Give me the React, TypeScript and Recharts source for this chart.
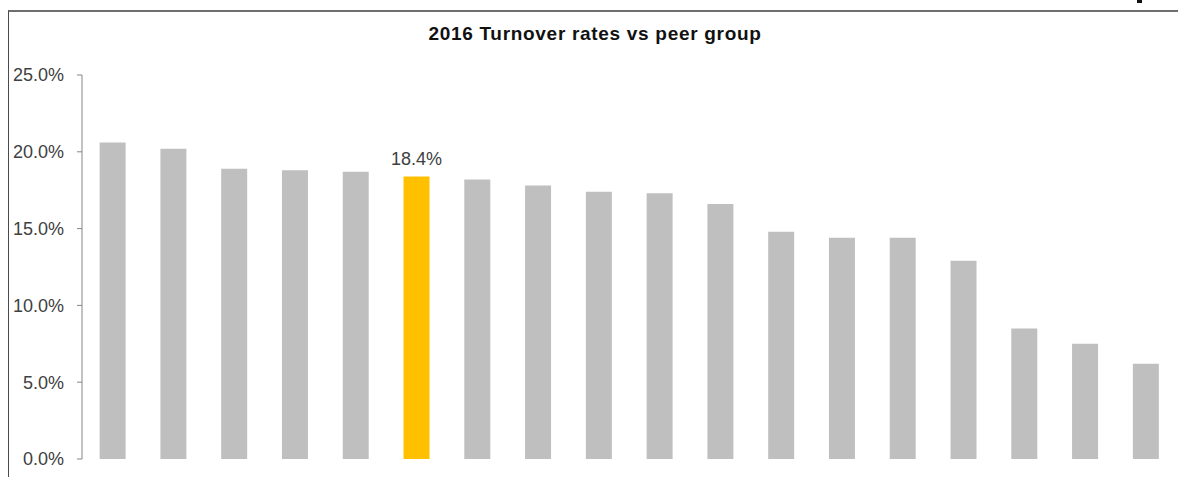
import { BarChart, Bar, XAxis, YAxis, Cell, LabelList } from 'recharts'

const TITLE = '2016 Turnover rates vs peer group'

// peer group, sorted by turnover
const peers = [
  'Peer A', 'Peer B', 'Peer C', 'Peer D', 'Peer E', 'Company', 'Peer F', 'Peer G', 'Peer H',
  'Peer I', 'Peer J', 'Peer K', 'Peer L', 'Peer M', 'Peer N', 'Peer O', 'Peer P', 'Peer Q',
]
const rates = [
  0.206, 0.202, 0.189, 0.188, 0.187, 0.184, 0.182, 0.178, 0.174,
  0.173, 0.166, 0.148, 0.144, 0.144, 0.129, 0.085, 0.075, 0.062,
]
const yTicks = [0, 0.05, 0.1, 0.15, 0.2, 0.25]
const HIGHLIGHT = 'Company'

const GREY = '#bfbfbf'
const GOLD = '#ffc000'
const AXIS = '#868686'
const TEXT = '#404040'
const FONT = '"Liberation Sans", Arial, sans-serif'

const data = peers.map((name, i) => ({ name, rate: rates[i] }))

const pct = (v: number) => `${(v * 100).toFixed(1)}%`

function HighlightLabel(props: any) {
  const { x, y, width, index, value } = props
  if (data[index]?.name !== HIGHLIGHT) return null
  return (
    <text x={x + width / 2} y={y - 11} textAnchor="middle" fill={TEXT}
      style={{ fontFamily: FONT, fontSize: 18 }}>
      {pct(value)}
    </text>
  )
}

export default function App() {
  return (
    <div style={{ position: 'fixed', left: 0, top: 0, width: 1178, height: 477, background: '#fff', overflow: 'hidden' }}>
      {/* frame */}
      <div style={{ position: 'absolute', left: 8, top: 10, width: 1170, height: 467,
        borderTop: '2px solid #6f6f6f', borderLeft: '1px solid #4a4a4a' }} />
      <div style={{ position: 'absolute', left: 1137, top: 0, width: 5, height: 3, background: '#111' }} />
      <div style={{ position: 'absolute', left: 0, top: 23, width: 1190, textAlign: 'center',
        fontFamily: FONT, fontSize: 19, fontWeight: 700, letterSpacing: 0.7, color: '#111' }}>
        {TITLE}
      </div>
      <BarChart width={1178} height={477} data={data}
        margin={{ top: 75, right: 2, left: 0, bottom: 18 }} barCategoryGap="29%"
        style={{ position: 'absolute', left: 0, top: 0 }}>
        <XAxis dataKey="name" hide height={0} />
        <YAxis domain={[0, 0.25]} ticks={yTicks} tickFormatter={pct} width={82}
          axisLine={{ stroke: AXIS }} tickLine={{ stroke: AXIS }} tickSize={5} tickMargin={13}
          tick={{ fill: TEXT, fontSize: 18, fontFamily: FONT }} interval={0} />
        <Bar dataKey="rate" isAnimationActive={false}>
          {data.map((d) => (
            <Cell key={d.name} fill={d.name === HIGHLIGHT ? GOLD : GREY} />
          ))}
          <LabelList dataKey="rate" content={HighlightLabel} />
        </Bar>
      </BarChart>
    </div>
  )
}
